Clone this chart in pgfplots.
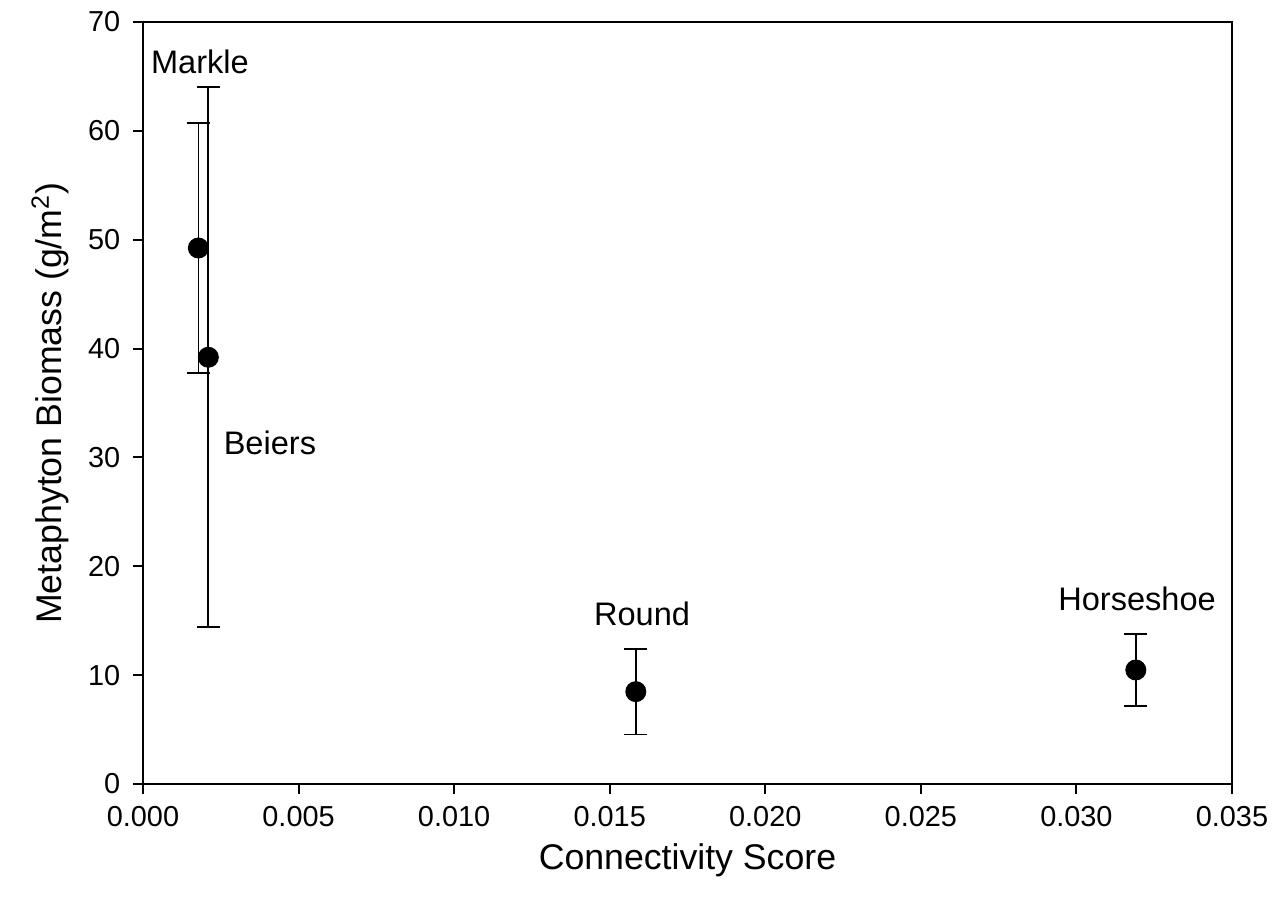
\documentclass[border=0pt]{standalone}
\usepackage{pgfplots}
\pgfplotsset{compat=1.18}
\usepackage{fontspec}
\setmainfont{Liberation Sans}
\begin{document}
\begin{tikzpicture}
\begin{axis}[
  scale only axis,
  width=384.6pt, height=269.1pt,
  xmin=0, xmax=0.035, ymin=0, ymax=70,
  xtick={0,0.005,0.010,0.015,0.020,0.025,0.030,0.035},
  ytick={0,10,20,30,40,50,60,70},
  scaled x ticks=false,
  xticklabel style={/pgf/number format/.cd, fixed, fixed zerofill, precision=3},
  /pgf/number format/assume math mode=true,
  tick align=outside,
  xtick pos=bottom, ytick pos=left,
  major tick length=3.5pt,
  axis line style={line width=0.7pt, black},
  every tick/.style={line width=0.7pt, black},
  tick label style={font=\fontsize{10.2}{12}\selectfont},
  xticklabel shift=1pt,
  yticklabel shift=1pt,
  label style={font=\fontsize{12.6}{15}\selectfont},
  xlabel={Connectivity Score},
  ylabel={Metaphyton Biomass (g/m\textsuperscript{2})},
  xlabel style={at={(rel axis cs:0.5,-0.0997)}, anchor=center},
  ylabel style={at={(rel axis cs:-0.0854,0.5)}, anchor=center},
  clip=false,
]
\addplot+[only marks, mark=*, mark size=3.5pt, color=black, mark options={fill=black},
  error bars/.cd, y dir=both, y explicit,
  error bar style={line width=0.6pt, black},
  error mark options={rotate=90, line width=0.6pt, mark size=4.1pt, black}]
coordinates {
  (0.00178, 49.24) +- (0, 11.5)
  (0.00210, 39.20) +- (0, 24.8)
  (0.01584, 8.48) +- (0, 3.95)
  (0.03191, 10.47) +- (0, 3.3)
};
\node[font=\fontsize{11.5}{14}\selectfont] at (axis cs:0.00183,66.3) {Markle};
\node[font=\fontsize{11.5}{14}\selectfont] at (axis cs:0.00408,31.3) {Beiers};
\node[font=\fontsize{11.5}{14}\selectfont] at (axis cs:0.01604,15.6) {Round};
\node[font=\fontsize{11.5}{14}\selectfont] at (axis cs:0.03195,17.0) {Horseshoe};
\coordinate (BL) at (rel axis cs:-0.1313,-0.1693);
\coordinate (TR) at (rel axis cs:1.0386,1.0289);
\end{axis}
\pgfresetboundingbox
\path[use as bounding box] (BL) rectangle (TR);
\end{tikzpicture}
\end{document}
